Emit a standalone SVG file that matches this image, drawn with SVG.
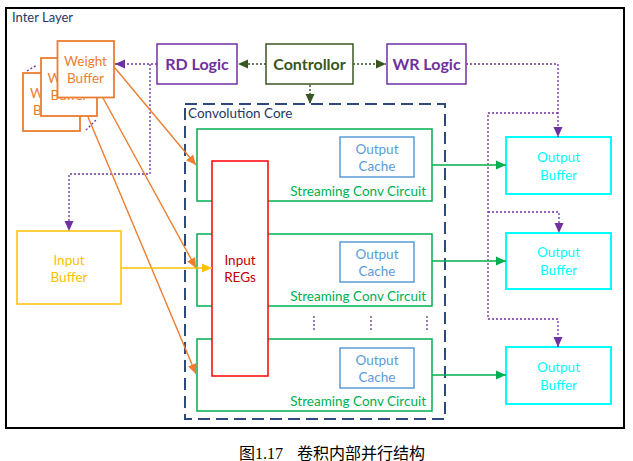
<svg xmlns="http://www.w3.org/2000/svg" width="633" height="461" viewBox="0 0 633 461">
<defs>
<style>
text{font-family:Lato,"Liberation Sans",sans-serif;}
.t13{font-size:13.5px;}
.bold{font-size:16px;font-weight:bold;text-anchor:middle;}
.mid{text-anchor:middle;}
.wb{fill:#fff;stroke:#ED7D31;stroke-width:1.8;}
.wbt{fill:#ED7D31;font-size:13.5px;text-anchor:middle;}
.sc{fill:#fff;stroke:#00B050;stroke-width:1.5;}
.oc{fill:#fff;stroke:#5B9BD5;stroke-width:1.5;}
.ob{fill:#fff;stroke:#00FFFF;stroke-width:2;}
.pdot{fill:none;stroke:#7030A0;stroke-width:1.3;stroke-dasharray:2 2;}
.gdot{fill:none;stroke:#385723;stroke-width:1.5;stroke-dasharray:2 2;}
.orl{stroke:#ED7D31;stroke-width:1.4;fill:none;}
.grl{stroke:#00B050;stroke-width:1.5;fill:none;}
</style>
<clipPath id="clipMid"><path d="M0,0 H57 V98 H200 V200 H0 z"/></clipPath>
<clipPath id="clipBack"><path d="M0,0 H40 V117 H200 V200 H0 z"/></clipPath>
<marker id="aP" markerUnits="userSpaceOnUse" markerWidth="10" markerHeight="10" viewBox="0 0 10 10" refX="10" refY="5" orient="auto"><path d="M0,0.5 L10,5 L0,9.5 z" fill="#7030A0"/></marker>
<marker id="aG" markerUnits="userSpaceOnUse" markerWidth="10" markerHeight="10" viewBox="0 0 10 10" refX="10" refY="5" orient="auto"><path d="M0,0.5 L10,5 L0,9.5 z" fill="#385723"/></marker>
<marker id="aO" markerUnits="userSpaceOnUse" markerWidth="10" markerHeight="10" viewBox="0 0 10 10" refX="10" refY="5" orient="auto"><path d="M0,0.5 L10,5 L0,9.5 z" fill="#ED7D31"/></marker>
<marker id="aY" markerUnits="userSpaceOnUse" markerWidth="10" markerHeight="10" viewBox="0 0 10 10" refX="10" refY="5" orient="auto"><path d="M0,0.5 L10,5 L0,9.5 z" fill="#FFC000"/></marker>
<marker id="aN" markerUnits="userSpaceOnUse" markerWidth="10" markerHeight="10" viewBox="0 0 10 10" refX="10" refY="5" orient="auto"><path d="M0,0.5 L10,5 L0,9.5 z" fill="#00B050"/></marker>
</defs>
<rect width="633" height="461" fill="#fff"/>
<g id="inter-layer">
<rect x="6" y="8" width="618" height="420" fill="#fff" stroke="#000" stroke-width="2"/>
<text x="12" y="22" font-size="13" fill="#1F3864">Inter Layer</text>
</g>
<g id="convolution-core">
<rect x="185" y="104" width="260" height="315" fill="none" stroke="#2E4A7D" stroke-width="2" stroke-dasharray="12 6"/>
<text x="188" y="118" class="t13" fill="#1F3864">Convolution Core</text>
</g>
<g id="weight-buffer-3">
<rect class="wb" x="23" y="73" width="57" height="58"/>
<g clip-path="url(#clipBack)">
<text class="wbt" x="51.5" y="97.5">Weight</text>
<text class="wbt" x="51.5" y="114.5">Buffer</text>
</g>
</g>
<g id="weight-buffer-2">
<rect class="wb" x="41" y="58" width="56" height="58"/>
<g clip-path="url(#clipMid)">
<text class="wbt" x="69" y="82.5">Weight</text>
<text class="wbt" x="69" y="99.5">Buffer</text>
</g>
</g>
<g id="weight-buffer-1">
<rect class="wb" x="57.5" y="41" width="56.5" height="56.5"/>
<text class="wbt" x="85.5" y="65.5">Weight</text>
<text class="wbt" x="85.5" y="82.5">Buffer</text>
</g>
<g id="stack-marks">
<line class="pdot" x1="27" y1="71" x2="37" y2="65" stroke-width="1.6" stroke-dasharray="3 2"/>
<line class="pdot" x1="86" y1="130" x2="96" y2="120" stroke-width="1.6" stroke-dasharray="3 2"/>
</g>
<g id="rd-logic">
<rect x="157" y="44" width="80" height="40" fill="#fff" stroke="#7030A0" stroke-width="1.5"/>
<text class="bold" x="197" y="70" fill="#7030A0">RD Logic</text>
</g>
<g id="controllor">
<rect x="266" y="44" width="87" height="40" fill="#fff" stroke="#385723" stroke-width="1.5"/>
<text class="bold" x="309.5" y="70" fill="#385723">Controllor</text>
</g>
<g id="wr-logic">
<rect x="387" y="44" width="79" height="40" fill="#fff" stroke="#7030A0" stroke-width="1.5"/>
<text class="bold" x="426.5" y="70" fill="#7030A0">WR Logic</text>
</g>
<g id="input-buffer">
<rect x="17" y="231" width="104" height="73" fill="#fff" stroke="#FFC000" stroke-width="1.5"/>
<text class="mid t13" x="69" y="264.5" fill="#FFC000">Input</text>
<text class="mid t13" x="69" y="282" fill="#FFC000">Buffer</text>
</g>
<g id="streaming-conv-1">
<rect class="sc" x="197" y="129" width="235" height="72"/>
<text x="426" y="196" class="t13" text-anchor="end" fill="#00B050">Streaming Conv Circuit</text>
<rect class="oc" x="340" y="137" width="74" height="40"/>
<text class="mid t13" x="377" y="154" fill="#5B9BD5">Output</text>
<text class="mid t13" x="377" y="171" fill="#5B9BD5">Cache</text>
</g>
<g id="streaming-conv-2">
<rect class="sc" x="197" y="234" width="235" height="72"/>
<text x="426" y="301" class="t13" text-anchor="end" fill="#00B050">Streaming Conv Circuit</text>
<rect class="oc" x="340" y="242" width="74" height="40"/>
<text class="mid t13" x="377" y="259" fill="#5B9BD5">Output</text>
<text class="mid t13" x="377" y="276" fill="#5B9BD5">Cache</text>
</g>
<g id="streaming-conv-3">
<rect class="sc" x="197" y="339" width="235" height="72"/>
<text x="426" y="406" class="t13" text-anchor="end" fill="#00B050">Streaming Conv Circuit</text>
<rect class="oc" x="340" y="348" width="74" height="40"/>
<text class="mid t13" x="377" y="365" fill="#5B9BD5">Output</text>
<text class="mid t13" x="377" y="382" fill="#5B9BD5">Cache</text>
</g>
<g id="input-regs">
<rect x="212" y="161" width="56" height="215" fill="#fff" stroke="#FF0000" stroke-width="1.5"/>
<text class="mid t13" x="240" y="264.5" fill="#C00000">Input</text>
<text class="mid t13" x="240" y="281.5" fill="#C00000">REGs</text>
</g>
<g id="ellipsis">
<line class="pdot" x1="314" y1="316" x2="314" y2="331" stroke-width="2" stroke-dasharray="3 3"/>
<line class="pdot" x1="371" y1="316" x2="371" y2="331" stroke-width="2" stroke-dasharray="3 3"/>
<line class="pdot" x1="427" y1="316" x2="427" y2="331" stroke-width="2" stroke-dasharray="3 3"/>
</g>
<g id="output-buffer-1">
<rect class="ob" x="506" y="137" width="105" height="57"/>
<text class="mid t13" x="558.5" y="161.5" fill="#00FFFF">Output</text>
<text class="mid t13" x="558.5" y="179.5" fill="#00FFFF">Buffer</text>
</g>
<g id="output-buffer-2">
<rect class="ob" x="506" y="233" width="105" height="56"/>
<text class="mid t13" x="558.5" y="257" fill="#00FFFF">Output</text>
<text class="mid t13" x="558.5" y="275" fill="#00FFFF">Buffer</text>
</g>
<g id="output-buffer-3">
<rect class="ob" x="506" y="347" width="105" height="57"/>
<text class="mid t13" x="558.5" y="371.5" fill="#00FFFF">Output</text>
<text class="mid t13" x="558.5" y="389.5" fill="#00FFFF">Buffer</text>
</g>
<g id="connectors">
<line class="gdot" x1="266" y1="64" x2="238" y2="64" stroke-dasharray="3 2" marker-end="url(#aG)"/>
<line class="gdot" x1="353" y1="64" x2="386" y2="64" marker-end="url(#aG)"/>
<line class="gdot" x1="310" y1="85" x2="310" y2="104" marker-end="url(#aG)"/>
<line class="pdot" x1="157" y1="64" x2="115" y2="64" marker-end="url(#aP)"/>
<polyline class="pdot" points="150,64 150,174 69,174 69,231" marker-end="url(#aP)"/>
<polyline class="pdot" points="466,64 558,64 558,137" marker-end="url(#aP)"/>
<polyline class="pdot" points="558,113 488,113 488,319"/>
<polyline class="pdot" points="488,212 559,212 559,233" marker-end="url(#aP)"/>
<polyline class="pdot" points="488,319 558,319 558,347" marker-end="url(#aP)"/>
<line class="orl" x1="115" y1="68" x2="196" y2="165" marker-end="url(#aO)"/>
<line class="orl" x1="103" y1="98" x2="196" y2="268" marker-end="url(#aO)"/>
<line class="orl" x1="88" y1="117" x2="196" y2="374" marker-end="url(#aO)"/>
<line x1="121" y1="268" x2="212" y2="268" stroke="#FFC000" stroke-width="1.6" marker-end="url(#aY)"/>
<line class="grl" x1="432" y1="165" x2="506" y2="165" marker-end="url(#aN)"/>
<line class="grl" x1="432" y1="261" x2="506" y2="261" marker-end="url(#aN)"/>
<line class="grl" x1="432" y1="375" x2="506" y2="375" marker-end="url(#aN)"/>
</g>
<g id="caption">
<text x="239" y="459" font-size="16" fill="#000" style="font-family:'Liberation Serif','Noto Sans CJK SC',serif">图1.17</text>
<text x="297" y="459" font-size="16" fill="#000" style="font-family:'Liberation Serif','Noto Sans CJK SC',serif">卷积内部并行结构</text>
</g>
</svg>
